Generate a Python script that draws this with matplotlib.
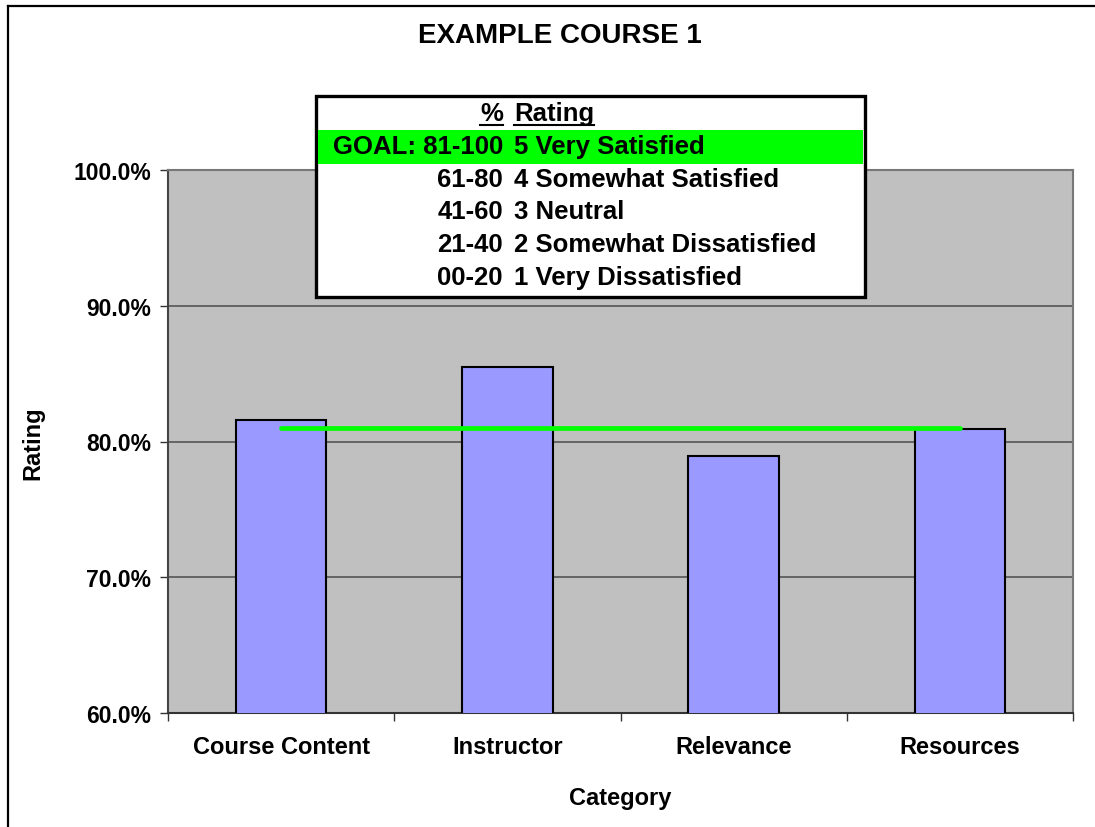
import matplotlib
matplotlib.use('Agg')
import matplotlib.pyplot as plt
from matplotlib.patches import Rectangle
from matplotlib.lines import Line2D
from matplotlib.ticker import FuncFormatter

plt.rcParams['font.family'] = ['Liberation Sans', 'DejaVu Sans']
plt.rcParams['font.weight'] = 'bold'

categorias = ['Course Content', 'Instructor', 'Relevance', 'Resources']
valores = [0.816, 0.855, 0.789, 0.809]
meta = 0.81

rangos = ['81-100', '61-80', '41-60', '21-40', '00-20']
niveles = ['5 Very Satisfied', '4 Somewhat Satisfied', '3 Neutral',
           '2 Somewhat Dissatisfied', '1 Very Dissatisfied']

W, H = 1095, 828
fig = plt.figure(figsize=(W / 100, H / 100), dpi=100)

def fx(px):
    return px / W

def fy(py):
    return 1 - py / H

ax = fig.add_axes([fx(168), fy(714), fx(1073) - fx(168), fy(171) - fy(714)])
ax.set_facecolor('#C0C0C0')
x = list(range(len(categorias)))
ax.bar(x, valores, width=0.4, color='#9999FF', edgecolor='black', linewidth=1.5, zorder=3)
ax.plot([x[0], x[-1]], [meta, meta], color='#00FF00', linewidth=3.4, solid_capstyle='round', zorder=4)

ax.set_xlim(-0.5, len(categorias) - 0.5)
ax.set_ylim(0.6, 1.0)
ax.set_yticks([0.6, 0.7, 0.8, 0.9, 1.0])
ax.yaxis.set_major_formatter(FuncFormatter(lambda v, p: '{:.1f}%'.format(v * 100)))
ax.yaxis.grid(True, color='#555555', linewidth=1.2, zorder=1)
ax.set_axisbelow(True)

# marcas en los limites, etiquetas en el centro
ax.set_xticks([i - 0.5 for i in range(len(categorias) + 1)])
ax.set_xticklabels([])
ax.set_xticks(x, minor=True)
ax.set_xticklabels(categorias, minor=True)
ax.tick_params(axis='x', which='minor', length=0, pad=16, labelsize=17)
ax.tick_params(axis='x', which='major', length=6, width=1, color='#333333')
ax.tick_params(axis='y', length=6, width=1, color='#333333', pad=6, labelsize=16.5)

for s in ax.spines.values():
    s.set_color('#777777')
    s.set_linewidth(1.5)
ax.spines['bottom'].set_color('#333333')
ax.spines['left'].set_color('#444444')

ax.set_xlabel('Category', fontsize=17, fontweight='bold', labelpad=20)
fig.text(fx(33), fy(443), 'Rating', rotation=90, ha='center', va='center', fontsize=17, fontweight='bold')
fig.text(fx(560), fy(36), 'EXAMPLE COURSE 1', ha='center', va='center', fontsize=20, fontweight='bold')

# marco exterior
fig.add_artist(Line2D([fx(8), 1.0], [fy(7), fy(7)], color='black', linewidth=1.6))
fig.add_artist(Line2D([fx(8), fx(8)], [fy(7), 0.0], color='black', linewidth=1.6))

# cuadro de escala
fig.add_artist(Rectangle((fx(316), fy(298)), fx(865) - fx(316), fy(97) - fy(298),
                         facecolor='white', edgecolor='black', linewidth=2.4, zorder=5))
fig.add_artist(Rectangle((fx(318), fy(165)), fx(863) - fx(318), fy(131) - fy(165),
                         facecolor='#00FF00', edgecolor='none', zorder=6))

col_der = fx(503)
col_izq = fx(514)
y0 = 114
dy = 32.8
tam = 18.5
enc1 = fig.text(col_der, fy(y0), '%', ha='right', va='center', fontsize=tam, fontweight='bold', zorder=7)
enc2 = fig.text(col_izq, fy(y0), 'Rating', ha='left', va='center', fontsize=tam, fontweight='bold', zorder=7)
for i, (r, n) in enumerate(zip(rangos, niveles)):
    yy = fy(y0 + dy * (i + 1))
    etiqueta = 'GOAL: ' + r if i == 0 else r
    fig.text(col_der, yy, etiqueta, ha='right', va='center', fontsize=tam, fontweight='bold', zorder=7)
    fig.text(col_izq, yy, n, ha='left', va='center', fontsize=tam, fontweight='bold', zorder=7)

# subrayado del encabezado
fig.canvas.draw()
r = fig.canvas.get_renderer()
for t in (enc1, enc2):
    bb = t.get_window_extent(r)
    fig.add_artist(Line2D([bb.x0 / W, bb.x1 / W], [fy(126), fy(126)], color='black', linewidth=1.5, zorder=8))

fig.savefig('out.png', dpi=100)
